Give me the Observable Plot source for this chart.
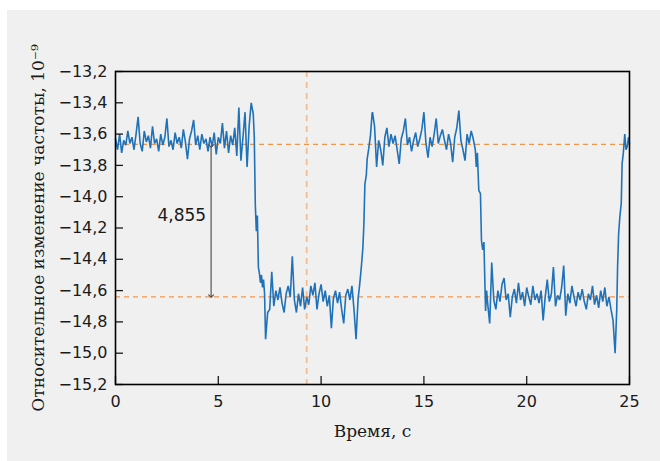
<!DOCTYPE html>
<html>
<head>
<meta charset="utf-8">
<script src="https://cdn.jsdelivr.net/npm/d3@7"></script>
<script src="https://cdn.jsdelivr.net/npm/@observablehq/plot@0.6"></script>
<style>
  html, body { margin: 0; padding: 0; background: #ffffff; }
  #panel { position: absolute; left: 7px; top: 10px; width: 653px; height: 451px; background: #f0f0f0; }
</style>
</head>
<body>
<div id="panel"></div>
<script>
// ---- data (relative frequency change, 1e-9; time in s) ----
const sampleStep = 0.1;

// plateau 1: t = 0.0 ... 6.7
const plateau1Start = 0.0;
const plateau1 = [-13.63,-13.70,-13.60,-13.72,-13.64,-13.67,-13.58,-13.66,-13.62,-13.70,
  -13.60,-13.49,-13.66,-13.71,-13.58,-13.65,-13.61,-13.69,-13.55,-13.66,
  -13.63,-13.71,-13.60,-13.67,-13.62,-13.50,-13.68,-13.64,-13.70,-13.59,
  -13.66,-13.62,-13.69,-13.57,-13.65,-13.76,-13.63,-13.58,-13.51,-13.67,
  -13.61,-13.70,-13.60,-13.66,-13.63,-13.71,-13.62,-13.68,-13.59,-13.73,
  -13.62,-13.66,-13.53,-13.69,-13.58,-13.72,-13.61,-13.67,-13.56,-13.74,
  -13.43,-13.77,-13.62,-13.46,-13.81,-13.55,-13.40,-13.47];
const drop1 = [[6.75,-13.62],[6.8,-14.05],[6.85,-14.22],[6.9,-14.12],[6.95,-14.45],[7.0,-14.49],
  [7.05,-14.55],[7.1,-14.50],[7.15,-14.58],[7.2,-14.53],[7.25,-14.62]];

// plateau 2: t = 7.3 ... 11.8
const plateau2Start = 7.3;
const plateau2 = [-14.91,-14.74,-14.72,-14.48,-14.70,-14.60,-14.66,-14.58,-14.68,-14.74,
  -14.62,-14.57,-14.64,-14.38,-14.66,-14.74,-14.62,-14.70,-14.58,-14.72,
  -14.64,-14.69,-14.57,-14.63,-14.55,-14.72,-14.62,-14.56,-14.67,-14.60,
  -14.70,-14.63,-14.84,-14.65,-14.60,-14.68,-14.61,-14.72,-14.81,-14.63,
  -14.59,-14.66,-14.57,-14.72,-14.91,-14.65];
const rise1 = [[11.87,-14.57],[11.95,-14.46],[12.03,-14.33],[12.08,-14.18],[12.13,-13.92],
  [12.2,-13.86],[12.24,-13.76],[12.32,-13.69],[12.4,-13.61],[12.48,-13.47]];

// plateau 3: t = 12.5 ... 17.5
const plateau3Start = 12.5;
const plateau3 = [-13.46,-13.55,-13.81,-13.64,-13.70,-13.80,-13.62,-13.56,-13.68,-13.60,
  -13.66,-13.61,-13.70,-13.79,-13.63,-13.58,-13.50,-13.67,-13.62,-13.71,
  -13.64,-13.59,-13.68,-13.63,-13.57,-13.46,-13.66,-13.75,-13.62,-13.68,
  -13.60,-13.50,-13.66,-13.61,-13.57,-13.64,-13.70,-13.60,-13.66,-13.78,
  -13.62,-13.56,-13.45,-13.64,-13.70,-13.77,-13.60,-13.66,-13.58,-13.63,
  -13.70];
const drop2 = [[17.55,-13.81],[17.6,-13.72],[17.67,-13.96],[17.75,-13.98],[17.8,-14.28],
  [17.86,-14.34],[17.92,-14.29],[17.96,-14.52],[18.0,-14.73],[18.05,-14.60]];

// plateau 4: t = 18.1 ... 24.3
const plateau4Start = 18.1;
const plateau4 = [-14.68,-14.81,-14.42,-14.66,-14.72,-14.60,-14.67,-14.56,-14.52,-14.66,
  -14.62,-14.77,-14.64,-14.59,-14.68,-14.55,-14.66,-14.61,-14.70,-14.58,
  -14.64,-14.69,-14.57,-14.66,-14.62,-14.68,-14.60,-14.79,-14.64,-14.53,
  -14.67,-14.62,-14.45,-14.70,-14.63,-14.66,-14.58,-14.44,-14.76,-14.62,
  -14.68,-14.57,-14.64,-14.70,-14.61,-14.66,-14.59,-14.67,-14.72,-14.62,
  -14.66,-14.57,-14.69,-14.63,-14.71,-14.60,-14.67,-14.58,-14.70,-14.64,
  -14.72,-14.79,-15.00];
const rise2 = [[24.38,-14.72],[24.42,-14.45],[24.47,-14.24],[24.53,-14.13],[24.6,-14.04],
  [24.64,-13.79],[24.7,-13.72],[24.77,-13.60],[24.83,-13.70],[24.89,-13.68],[24.95,-13.62],[25.0,-13.66]];

// reference levels and annotation
const levels = [-13.666, -14.64];
const markerTime = [9.3];
const deltaLabel = "4,855";
const deltaX = 4.65;
const yTicks = [-13.2,-13.4,-13.6,-13.8,-14.0,-14.2,-14.4,-14.6,-14.8,-15.0,-15.2];
const xTicks = [0, 5, 10, 15, 20, 25];
const xTitle = "Время, с";
const yTitle = "Относительное изменение частоты, 10⁻⁹";

// ---- build series ----
const plateau = (t0, vals) => vals.map((v, i) => ({t: +(t0 + i * sampleStep).toFixed(3), v}));
const pairs = arr => arr.map(([t, v]) => ({t, v}));
const series = [
  ...plateau(plateau1Start, plateau1), ...pairs(drop1),
  ...plateau(plateau2Start, plateau2), ...pairs(rise1),
  ...plateau(plateau3Start, plateau3), ...pairs(drop2),
  ...plateau(plateau4Start, plateau4), ...pairs(rise2)
];

const fmt = d => d3.format(".1f")(d).replace(".", ",");
const sans = "'DejaVu Sans', sans-serif";
const serif = "'DejaVu Serif', serif";

const chart = Plot.plot({
  width: 653,
  height: 451,
  marginLeft: 108,
  marginRight: 31,
  marginTop: 61,
  marginBottom: 77,
  style: {background: "transparent", fontFamily: sans, fontSize: "16px", color: "#1a1a1a"},
  x: {domain: [0, 25]},
  y: {domain: [-15.2, -13.2]},
  marks: [
    Plot.ruleX(markerTime, {stroke: "#f2bd93", strokeWidth: 1.8, strokeDasharray: "6,5"}),
    Plot.ruleY(levels, {stroke: "#f39548", strokeWidth: 1.2, strokeDasharray: "5,4"}),
    Plot.line(series, {x: "t", y: "v", stroke: "#1f72b8", strokeWidth: 1.6, strokeLinejoin: "miter"}),
    Plot.link([{x: deltaX, y1: levels[0] - 0.01, y2: levels[1] + 0.005}], {
      x1: "x", x2: "x", y1: "y1", y2: "y2",
      stroke: "#555555", strokeWidth: 1.2, markerStart: "arrow", markerEnd: "arrow"
    }),
    Plot.text([{x: deltaX, y: -14.12, s: deltaLabel}], {
      x: "x", y: "y", text: "s", textAnchor: "end", dx: -5,
      fontFamily: sans, fontSize: 17, fill: "#1a1a1a"
    }),
    Plot.axisY({ticks: yTicks, tickFormat: fmt, tickSize: -8, tickPadding: 16, label: null,
      stroke: "#1a1a1a", strokeWidth: 1.3, fontSize: 16}),
    Plot.axisX({ticks: xTicks, tickFormat: d => String(d), tickSize: -8, tickPadding: 19, label: null,
      stroke: "#1a1a1a", strokeWidth: 1.3, fontSize: 16}),
    Plot.frame({stroke: "#000000", strokeWidth: 1.6}),
    Plot.text([yTitle], {frameAnchor: "left", dx: -77, rotate: -90, textAnchor: "middle", text: d => d,
      fontFamily: serif, fontSize: 17, fill: "#1a1a1a"}),
    Plot.text([xTitle], {frameAnchor: "bottom", dy: 52, text: d => d,
      fontFamily: serif, fontSize: 17, fill: "#1a1a1a"})
  ]
});
document.getElementById("panel").appendChild(chart);
</script>
</body>
</html>
